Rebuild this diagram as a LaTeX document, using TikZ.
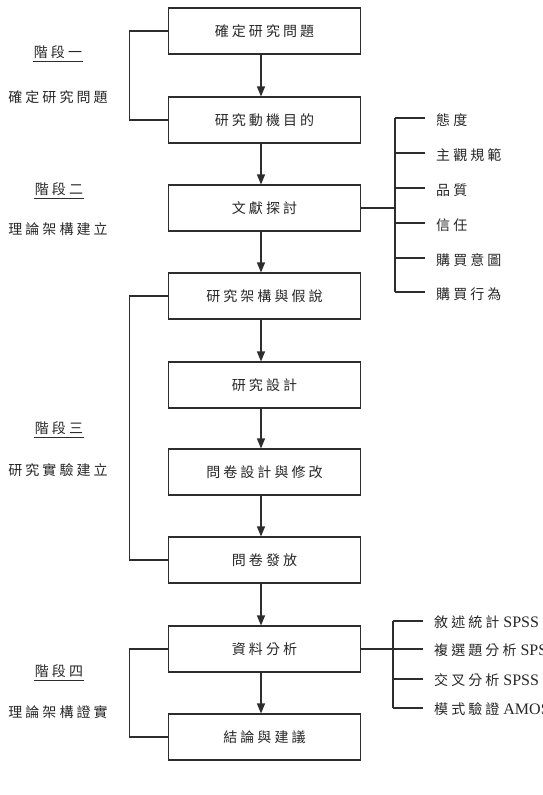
\documentclass[tikz,border=0pt]{standalone}
\usepackage{fontspec}
\setmainfont{Liberation Serif}
\newfontfamily\cjk[LetterSpace=22]{Noto Sans CJK TC}
\usetikzlibrary{arrows.meta}
\definecolor{linec}{RGB}{45,45,45}
\begin{document}
\begin{tikzpicture}[x=1pt,y=-1pt]
\tikzset{
 box/.style={draw=linec, line width=1.1pt, minimum width=192pt, minimum height=46pt, inner sep=0pt, font=\cjk\fontsize{14}{16}\selectfont, text=black!85},
 lbl/.style={inner sep=1pt, font=\cjk\fontsize{14}{16}\selectfont, text=black!85},
 rl/.style={lbl, anchor=west},
 rs/.style={inner sep=1pt, anchor=west, font=\rmfamily\fontsize{16}{18}\selectfont, text=black!85},
 conn/.style={draw=linec, line width=1.1pt},
 arr/.style={conn, -{Triangle[length=10pt,width=8pt]}},
}
\useasboundingbox (0,0) rectangle (543,795);
% main boxes
\node[box] (b1) at (264.5,31)  {確定研究問題};
\node[box] (b2) at (264.5,120) {研究動機目的};
\node[box] (b3) at (264.5,208) {文獻探討};
\node[box] (b4) at (264.5,296) {研究架構與假說};
\node[box] (b5) at (264.5,385) {研究設計};
\node[box] (b6) at (264.5,472) {問卷設計與修改};
\node[box] (b7) at (264.5,560) {問卷發放};
\node[box] (b8) at (264.5,649) {資料分析};
\node[box] (b9) at (264.5,737) {結論與建議};
% arrows
\foreach \a/\b in {b1/b2,b2/b3,b3/b4,b4/b5,b5/b6,b6/b7,b7/b8,b8/b9}
  \draw[arr] ([xshift=-3.5pt]\a.south) -- ([xshift=-3.5pt]\b.north);
% left brackets
\draw[conn] (b1.west) -- ++(-38.5,0) |- (b2.west);
\draw[conn] (b4.west) -- ++(-38.5,0) |- (b7.west);
\draw[conn] (b8.west) -- ++(-38.5,0) |- (b9.west);
% stage labels
\node[lbl] (s1) at (58,52) {階段一};
\node[lbl] (s1t) at (58,97) {確定研究問題};
\node[lbl] (s2) at (59,189) {階段二};
\node[lbl] (s2t) at (58,229) {理論架構建立};
\node[lbl] (s3) at (59,428) {階段三};
\node[lbl] (s3t) at (58,470) {研究實驗建立};
\node[lbl] (s4) at (59,671) {階段四};
\node[lbl] (s4t) at (58,712) {理論架構證實};
\foreach \s in {s1,s2,s3,s4}
  \draw[draw=linec, line width=0.9pt] ([yshift=-2pt]\s.south west) -- ([yshift=-2pt]\s.south east);
% right list 1
\coordinate (r1) at (395,208);
\node[rl] (t1) at (435,120) {態度};
\node[rl] (t2) at (435,155) {主觀規範};
\node[rl] (t3) at (435,190) {品質};
\node[rl] (t4) at (435,225) {信任};
\node[rl] (t5) at (435,260) {購買意圖};
\node[rl] (t6) at (435,294) {購買行為};
\draw[conn] (b3.east) -- (r1);
\draw[conn] ([yshift=2pt]t1.west -| r1) -- ([yshift=2pt]t6.west -| r1);
\foreach \t in {t1,t2,t3,t4,t5,t6}
  \draw[conn] ([yshift=2pt]\t.west -| r1) -- ([xshift=-10pt,yshift=2pt]\t.west);
% right list 2
\coordinate (r2) at (393,649);
\node[rs] (u1) at (433,622) {{\cjk\fontsize{14}{16}\selectfont 敘述統計} SPSS};
\node[rs] (u2) at (433,650) {{\cjk\fontsize{14}{16}\selectfont 複選題分析} SPSS};
\node[rs] (u3) at (433,680) {{\cjk\fontsize{14}{16}\selectfont 交叉分析} SPSS};
\node[rs] (u4) at (433,709) {{\cjk\fontsize{14}{16}\selectfont 模式驗證} AMOS};
\draw[conn] (b8.east) -- (r2);
\draw[conn] ([yshift=1pt]u1.west -| r2) -- ([yshift=1pt]u4.west -| r2);
\foreach \t in {u1,u2,u3,u4}
  \draw[conn] ([yshift=1pt]\t.west -| r2) -- ([xshift=-10pt,yshift=1pt]\t.west);
\end{tikzpicture}
\end{document}
